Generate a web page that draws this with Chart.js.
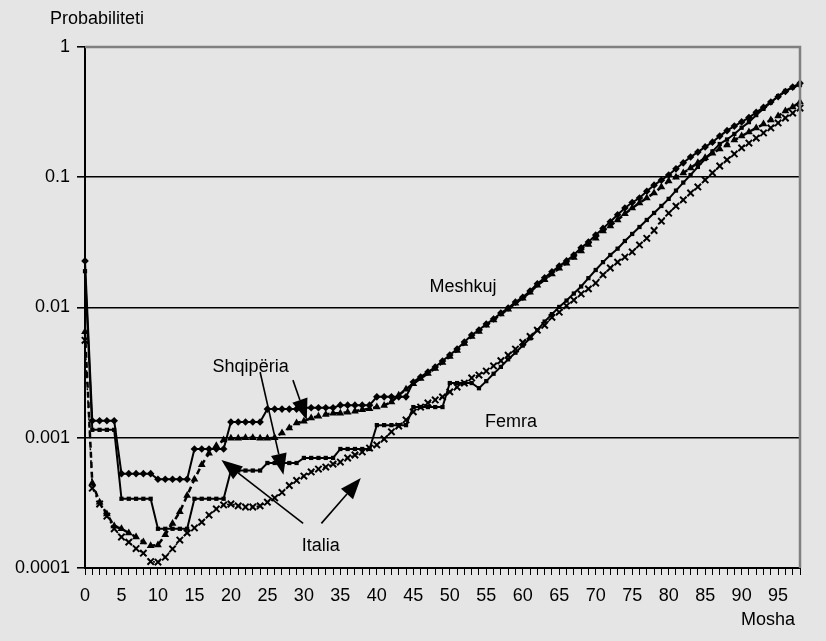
<!DOCTYPE html>
<html>
<head>
<meta charset="utf-8">
<script src="https://cdn.jsdelivr.net/npm/chart.js@4/dist/chart.umd.min.js"></script>
<style>
html, body { margin: 0; padding: 0; background: #e5e5e5; }
#wrap { width: 826px; height: 641px; }
</style>
</head>
<body>
<div id="wrap"><canvas id="chart" width="826" height="641"></canvas></div>
<script>
// mosha (age) categories
const ages = [
    0, 1, 2, 3, 4, 5, 6, 7, 8, 9, 10, 11, 12, 13, 14, 15, 16, 17, 18, 19,
    20, 21, 22, 23, 24, 25, 26, 27, 28, 29, 30, 31, 32, 33, 34, 35, 36, 37, 38, 39,
    40, 41, 42, 43, 44, 45, 46, 47, 48, 49, 50, 51, 52, 53, 54, 55, 56, 57, 58, 59,
    60, 61, 62, 63, 64, 65, 66, 67, 68, 69, 70, 71, 72, 73, 74, 75, 76, 77, 78, 79,
    80, 81, 82, 83, 84, 85, 86, 87, 88, 89, 90, 91, 92, 93, 94, 95, 96, 97, 98
];

const shqMeshkuj = [
    0.0228,
    0.00135, 0.00135, 0.00135, 0.00135,
    0.00053, 0.00053, 0.00053, 0.00053, 0.00053,
    0.00048, 0.00048, 0.00048, 0.00048, 0.00048,
    0.00082, 0.00082, 0.00082, 0.00082, 0.00082,
    0.00132, 0.00132, 0.00132, 0.00132, 0.00132,
    0.00166, 0.00166, 0.00166, 0.00166, 0.00166,
    0.0017, 0.0017, 0.0017, 0.0017, 0.0017,
    0.00178, 0.00178, 0.00178, 0.00178, 0.00178,
    0.00206, 0.00206, 0.00206, 0.00206, 0.00206,
    0.00268, 0.00293, 0.0032, 0.00349, 0.00388,
    0.00432, 0.0048, 0.00543, 0.00615, 0.00672,
    0.00747, 0.00816, 0.00908, 0.0099, 0.011,
    0.012, 0.0134, 0.0152, 0.0169, 0.0188,
    0.0208, 0.0228, 0.0253, 0.0287, 0.0318,
    0.036, 0.0405, 0.0455, 0.0515, 0.058,
    0.064, 0.0693, 0.078, 0.087, 0.095,
    0.104, 0.116, 0.129, 0.143, 0.156,
    0.171, 0.186, 0.207, 0.228, 0.247,
    0.266, 0.287, 0.315, 0.345, 0.378,
    0.415, 0.455, 0.492, 0.528
];

const shqFemra = [
    0.019,
    0.00115, 0.00115, 0.00115, 0.00115,
    0.00034, 0.00034, 0.00034, 0.00034, 0.00034,
    0.0002, 0.0002, 0.0002, 0.0002, 0.0002,
    0.00034, 0.00034, 0.00034, 0.00034, 0.00034,
    0.00056, 0.00056, 0.00056, 0.00056, 0.00056,
    0.00064, 0.00064, 0.00064, 0.00064, 0.00064,
    0.0007, 0.0007, 0.0007, 0.0007, 0.0007,
    0.00082, 0.00082, 0.00082, 0.00082, 0.00082,
    0.00125, 0.00125, 0.00125, 0.00125, 0.00125,
    0.00172, 0.00172, 0.00172, 0.00172, 0.00172,
    0.00263, 0.00263, 0.00263, 0.00263, 0.0024,
    0.00272, 0.0031, 0.0035, 0.004, 0.0045,
    0.0051, 0.0058, 0.0067, 0.0078, 0.0089,
    0.0101, 0.0113, 0.0128, 0.0145, 0.0168,
    0.0194, 0.0223, 0.0253, 0.0283, 0.0324,
    0.0367, 0.0415, 0.047, 0.0532, 0.0602,
    0.0682, 0.079, 0.091, 0.104, 0.12,
    0.138, 0.158, 0.18, 0.195, 0.215,
    0.24, 0.265, 0.3, 0.335, 0.375,
    0.42, 0.46, 0.49, 0.51
];

const itaMeshkuj = [
    0.0065,
    0.00045, 0.00032, 0.00026, 0.00021,
    0.0002, 0.000186, 0.000173, 0.000158, 0.000148,
    0.00015, 0.00018, 0.00022, 0.00027, 0.00036,
    0.00048, 0.00062, 0.00076, 0.00087, 0.00096,
    0.00099, 0.00099, 0.001, 0.001, 0.00099,
    0.00099, 0.001, 0.00109, 0.00119, 0.0013,
    0.00134, 0.00142, 0.00146, 0.00151, 0.00154,
    0.00154, 0.00157, 0.0016, 0.00164, 0.00167,
    0.00172, 0.00177, 0.00188, 0.00212, 0.00236,
    0.0026, 0.00285, 0.00312, 0.0034, 0.00378,
    0.0042, 0.00468, 0.0053, 0.006, 0.00655,
    0.0073, 0.008, 0.0089, 0.0097, 0.0108,
    0.0118, 0.0131, 0.0148, 0.0163, 0.0181,
    0.02, 0.0219, 0.0242, 0.0272, 0.0305,
    0.034, 0.0386, 0.0422, 0.047, 0.0524,
    0.058, 0.0634, 0.0693, 0.0757, 0.084,
    0.0935, 0.1, 0.108, 0.118, 0.129,
    0.141, 0.153, 0.165, 0.177, 0.193,
    0.207, 0.223, 0.239, 0.256, 0.275,
    0.295, 0.323, 0.346, 0.378
];

const itaFemra = [
    0.0056,
    0.00041, 0.00031, 0.00025, 0.0002,
    0.000173, 0.000158, 0.000141, 0.00013, 0.000112,
    0.000111, 0.000121, 0.00014, 0.000164, 0.000186,
    0.000203, 0.000225, 0.000255, 0.000284, 0.000305,
    0.00031, 0.0003, 0.000294, 0.000294, 0.0003,
    0.00032, 0.000345, 0.00038, 0.00043, 0.00047,
    0.000508, 0.000546, 0.000575, 0.000596, 0.000628,
    0.000651, 0.000699, 0.000737, 0.000778, 0.000834,
    0.00088, 0.000978, 0.00111, 0.00123, 0.00137,
    0.00158, 0.00172, 0.00185, 0.00195, 0.00206,
    0.00225, 0.00245, 0.00263, 0.00288, 0.00303,
    0.00325, 0.00356, 0.0039, 0.0043, 0.0048,
    0.0054, 0.006, 0.0067, 0.0073, 0.0084,
    0.0092, 0.0103, 0.0114, 0.0127, 0.0139,
    0.0154, 0.0178, 0.0201, 0.0223, 0.0244,
    0.0267, 0.0302, 0.034, 0.039, 0.046,
    0.053, 0.06, 0.067, 0.0757, 0.0842,
    0.0953, 0.108, 0.122, 0.136, 0.151,
    0.168, 0.183, 0.2, 0.219, 0.239,
    0.261, 0.285, 0.311, 0.34
];

const yTicks = [0.0001, 0.001, 0.01, 0.1, 1];
const yTickLabels = ['0.0001', '0.001', '0.01', '0.1', '1'];

// text labels inside the plot, placed in data coordinates (age, probability)
const noteTexts = ['Meshkuj', 'Femra', 'Shqipëria', 'Italia'];
const noteAges = [51.8, 58.4, 22.7, 32.3];
const noteValues = [0.0144, 0.00132, 0.0035, 0.000148];

// arrows: from (age, value) to tip (age, value)
const arrowFromAges = [24.0, 28.5, 29.9, 32.4];
const arrowFromValues = [0.0032, 0.00277, 0.00022, 0.00022];
const arrowToAges = [27.2, 30.4, 18.7, 37.8];
const arrowToValues = [0.00052, 0.00137, 0.000675, 0.00049];

const FONT = 'Liberation Sans, Arial, sans-serif';
const BG = '#e5e5e5';

const drawArrow = (ctx, x1, y1, x2, y2) => {
    const ang = Math.atan2(y2 - y1, x2 - x1);
    const len = 21, half = 8;
    const bx = x2 - len * Math.cos(ang);
    const by = y2 - len * Math.sin(ang);
    ctx.beginPath();
    ctx.moveTo(x1, y1);
    ctx.lineTo(bx, by);
    ctx.lineWidth = 1.6;
    ctx.strokeStyle = '#000';
    ctx.stroke();
    ctx.beginPath();
    ctx.moveTo(x2, y2);
    ctx.lineTo(bx + half * Math.sin(ang), by - half * Math.cos(ang));
    ctx.lineTo(bx - half * Math.sin(ang), by + half * Math.cos(ang));
    ctx.closePath();
    ctx.fillStyle = '#000';
    ctx.fill();
};

const decorPlugin = {
    id: 'decor',
    beforeDraw(chart) {
        const ctx = chart.ctx;
        ctx.save();
        ctx.fillStyle = BG;
        ctx.fillRect(0, 0, chart.width, chart.height);
        ctx.restore();
    },
    afterDatasetsDraw(chart) {
        const ctx = chart.ctx;
        const { x, y } = chart.scales;
        const area = chart.chartArea;
        ctx.save();
        // grey frame top and right
        ctx.strokeStyle = '#808080';
        ctx.lineWidth = 2.5;
        ctx.beginPath();
        ctx.moveTo(area.left, area.top);
        ctx.lineTo(area.right, area.top);
        ctx.lineTo(area.right, area.bottom);
        ctx.stroke();

        ctx.fillStyle = '#000';
        ctx.font = '18px ' + FONT;
        ctx.textAlign = 'center';
        ctx.textBaseline = 'middle';
        noteTexts.forEach((t, i) => {
            ctx.fillText(t, x.getPixelForValue(noteAges[i]), y.getPixelForValue(noteValues[i]));
        });
        arrowFromAges.forEach((a, i) => {
            drawArrow(ctx,
                x.getPixelForValue(a), y.getPixelForValue(arrowFromValues[i]),
                x.getPixelForValue(arrowToAges[i]), y.getPixelForValue(arrowToValues[i]));
        });

        ctx.fillStyle = '#000';
        ctx.font = '18px ' + FONT;
        ctx.textAlign = 'left';
        ctx.fillText('Probabiliteti', 50, 19);
        ctx.textAlign = 'center';
        ctx.fillText('Mosha', 768, 620);
        ctx.restore();
    }
};

const ctx = document.getElementById('chart').getContext('2d');
new Chart(ctx, {
    type: 'line',
    data: {
        labels: ages,
        datasets: [
            {
                label: 'Shqipëria Meshkuj',
                data: shqMeshkuj,
                borderColor: '#000',
                backgroundColor: '#000',
                borderWidth: 2,
                pointStyle: 'rectRot',
                pointRadius: 3.8,
                pointBorderWidth: 0,
                tension: 0
            },
            {
                label: 'Shqipëria Femra',
                data: shqFemra,
                borderColor: '#000',
                backgroundColor: '#000',
                borderWidth: 2,
                pointStyle: 'rect',
                pointRadius: 3,
                pointBorderWidth: 0,
                tension: 0
            },
            {
                label: 'Italia Meshkuj',
                data: itaMeshkuj,
                borderColor: '#000',
                backgroundColor: '#000',
                borderWidth: 2.5,
                borderDash: [6, 4],
                pointStyle: 'triangle',
                pointRadius: 4.5,
                pointBorderWidth: 0,
                tension: 0
            },
            {
                label: 'Italia Femra',
                data: itaFemra,
                borderColor: '#000',
                backgroundColor: '#000',
                borderWidth: 1.5,
                borderDash: [2, 4],
                pointStyle: 'crossRot',
                pointRadius: 4.5,
                pointBorderWidth: 2,
                tension: 0
            }
        ]
    },
    options: {
        responsive: false,
        animation: false,
        devicePixelRatio: 1,
        clip: false,
        layout: { padding: { top: 47, right: 26, left: 0, bottom: 0 } },
        plugins: {
            legend: { display: false },
            tooltip: { enabled: false }
        },
        scales: {
            x: {
                type: 'category',
                offset: false,
                grid: {
                    display: true,
                    drawOnChartArea: false,
                    offset: false,
                    color: '#000',
                    tickLength: 7,
                    lineWidth: 1
                },
                border: { color: '#000', width: 2 },
                ticks: {
                    autoSkip: false,
                    maxRotation: 0,
                    minRotation: 0,
                    padding: 10,
                    color: '#000',
                    font: { family: FONT, size: 18 },
                    callback: function (value, index) {
                        return index % 5 === 0 ? String(this.getLabelForValue(value)) : '';
                    }
                },
                afterFit: (axis) => { axis.height = 73; }
            },
            y: {
                type: 'logarithmic',
                min: 0.0001,
                max: 1,
                afterBuildTicks: (axis) => {
                    axis.ticks = yTicks.map((v) => ({ value: v }));
                },
                grid: {
                    color: (c) => (c.tick && c.tick.value === 1 ? 'rgba(0,0,0,0)' : '#000'),
                    tickColor: '#000',
                    lineWidth: 1.6,
                    tickLength: 8
                },
                border: { color: '#000', width: 2 },
                ticks: {
                    padding: 7,
                    color: '#000',
                    font: { family: FONT, size: 18 },
                    callback: (value) => yTickLabels[yTicks.indexOf(value)]
                },
                afterFit: (axis) => { axis.width = 85; }
            }
        }
    },
    plugins: [decorPlugin]
});
</script>
</body>
</html>
